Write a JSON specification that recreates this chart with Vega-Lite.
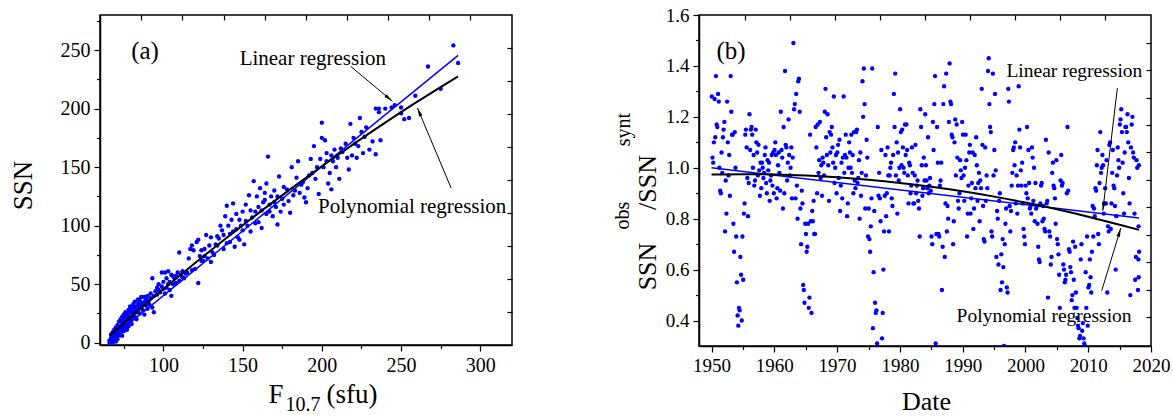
{
"$schema":"https://vega.github.io/schema/vega-lite/v6.json",
"background":"white",
"padding":{"left":8,"top":5,"right":5,"bottom":0},
"bounds":"flush",
"spacing":187,
"datasets":{
"a":[{"f":66,"s":0},{"f":66,"s":2},{"f":67,"s":1},{"f":67,"s":4},{"f":67,"s":7},{"f":68,"s":3},{"f":68,"s":0},{"f":68,"s":9},{"f":69,"s":2},{"f":69,"s":5},{"f":69,"s":11},{"f":69,"s":6},{"f":70,"s":1},{"f":70,"s":8},{"f":70,"s":13},{"f":70,"s":4},{"f":71,"s":10},{"f":71,"s":3},{"f":71,"s":15},{"f":71,"s":7},{"f":72,"s":6},{"f":72,"s":12},{"f":72,"s":18},{"f":72,"s":9},{"f":73,"s":14},{"f":73,"s":8},{"f":73,"s":20},{"f":73,"s":11},{"f":74,"s":12},{"f":74,"s":17},{"f":74,"s":22},{"f":74,"s":6},{"f":75,"s":15},{"f":75,"s":19},{"f":75,"s":24},{"f":75,"s":10},{"f":76,"s":18},{"f":76,"s":13},{"f":76,"s":22},{"f":76,"s":26},{"f":77,"s":16},{"f":77,"s":21},{"f":77,"s":25},{"f":77,"s":11},{"f":78,"s":20},{"f":78,"s":24},{"f":78,"s":28},{"f":78,"s":14},{"f":79,"s":22},{"f":79,"s":27},{"f":79,"s":31},{"f":79,"s":18},{"f":80,"s":21},{"f":80,"s":26},{"f":80,"s":30},{"f":80,"s":16},{"f":81,"s":24},{"f":81,"s":29},{"f":81,"s":33},{"f":82,"s":22},{"f":82,"s":27},{"f":82,"s":31},{"f":82,"s":35},{"f":83,"s":26},{"f":83,"s":30},{"f":83,"s":20},{"f":84,"s":28},{"f":84,"s":33},{"f":84,"s":37},{"f":85,"s":25},{"f":85,"s":31},{"f":85,"s":36},{"f":86,"s":30},{"f":86,"s":34},{"f":86,"s":39},{"f":87,"s":28},{"f":87,"s":33},{"f":88,"s":35},{"f":88,"s":39},{"f":88,"s":24},{"f":89,"s":32},{"f":89,"s":38},{"f":90,"s":36},{"f":90,"s":40},{"f":90,"s":29},{"f":91,"s":33},{"f":92,"s":38},{"f":92,"s":42},{"f":93,"s":55},{"f":93,"s":30},{"f":94,"s":40},{"f":94,"s":26},{"f":95,"s":44},{"f":96,"s":47},{"f":96,"s":41},{"f":97,"s":45},{"f":97,"s":50},{"f":98,"s":43},{"f":99,"s":48},{"f":99,"s":60},{"f":100,"s":52},{"f":100,"s":46},{"f":101,"s":60},{"f":101,"s":42},{"f":102,"s":55},{"f":103,"s":50},{"f":103,"s":61},{"f":104,"s":45},{"f":105,"s":58},{"f":105,"s":40},{"f":106,"s":50},{"f":107,"s":55},{"f":108,"s":57},{"f":109,"s":60},{"f":110,"s":53},{"f":110,"s":77},{"f":111,"s":58},{"f":112,"s":61},{"f":113,"s":55},{"f":114,"s":59},{"f":115,"s":60},{"f":116,"s":72},{"f":117,"s":80},{"f":118,"s":83},{"f":119,"s":79},{"f":120,"s":63},{"f":121,"s":86},{"f":122,"s":88},{"f":122,"s":51},{"f":123,"s":74},{"f":124,"s":79},{"f":125,"s":70},{"f":126,"s":80},{"f":127,"s":92},{"f":128,"s":72},{"f":129,"s":83},{"f":130,"s":69},{"f":130,"s":90},{"f":132,"s":75},{"f":133,"s":84},{"f":134,"s":91},{"f":135,"s":89},{"f":136,"s":100},{"f":137,"s":96},{"f":138,"s":80},{"f":139,"s":108},{"f":140,"s":117},{"f":140,"s":85},{"f":141,"s":100},{"f":142,"s":93},{"f":143,"s":105},{"f":144,"s":119},{"f":145,"s":82},{"f":146,"s":110},{"f":147,"s":90},{"f":148,"s":105},{"f":149,"s":100},{"f":150,"s":112},{"f":151,"s":84},{"f":152,"s":118},{"f":153,"s":100},{"f":154,"s":126},{"f":155,"s":95},{"f":156,"s":107},{"f":157,"s":138},{"f":158,"s":112},{"f":159,"s":125},{"f":160,"s":103},{"f":161,"s":132},{"f":162,"s":98},{"f":163,"s":120},{"f":164,"s":128},{"f":165,"s":136},{"f":165,"s":110},{"f":166,"s":159},{"f":167,"s":118},{"f":168,"s":125},{"f":169,"s":108},{"f":170,"s":130},{"f":171,"s":116},{"f":172,"s":101},{"f":173,"s":142},{"f":174,"s":112},{"f":175,"s":123},{"f":176,"s":133},{"f":178,"s":131},{"f":180,"s":111},{"f":181,"s":150},{"f":182,"s":126},{"f":184,"s":141},{"f":185,"s":155},{"f":186,"s":128},{"f":188,"s":137},{"f":189,"s":124},{"f":190,"s":120},{"f":191,"s":132},{"f":193,"s":157},{"f":194,"s":145},{"f":195,"s":168},{"f":196,"s":140},{"f":198,"s":127},{"f":199,"s":157},{"f":200,"s":188},{"f":200,"s":175},{"f":201,"s":150},{"f":202,"s":173},{"f":203,"s":162},{"f":204,"s":136},{"f":205,"s":145},{"f":206,"s":131},{"f":207,"s":155},{"f":208,"s":165},{"f":209,"s":150},{"f":210,"s":158},{"f":211,"s":140},{"f":213,"s":163},{"f":215,"s":170},{"f":217,"s":148},{"f":218,"s":187},{"f":219,"s":160},{"f":220,"s":175},{"f":222,"s":158},{"f":223,"s":168},{"f":224,"s":192},{"f":225,"s":180},{"f":226,"s":162},{"f":228,"s":184},{"f":230,"s":165},{"f":232,"s":172},{"f":234,"s":200},{"f":234,"s":161},{"f":236,"s":200},{"f":236,"s":197},{"f":237,"s":173},{"f":240,"s":200},{"f":244,"s":201},{"f":246,"s":203},{"f":250,"s":201},{"f":250,"s":196},{"f":252,"s":191},{"f":255,"s":192},{"f":259,"s":211},{"f":267,"s":236},{"f":275,"s":217},{"f":283,"s":254},{"f":286,"s":239},{"f":102,"s":47},{"f":104,"s":52},{"f":106,"s":57},{"f":108,"s":51},{"f":112,"s":56},{"f":118,"s":62},{"f":124,"s":70},{"f":126,"s":74},{"f":131,"s":77},{"f":134,"s":83},{"f":138,"s":92},{"f":142,"s":86},{"f":144,"s":95},{"f":146,"s":97},{"f":148,"s":88},{"f":150,"s":96},{"f":152,"s":104},{"f":155,"s":113},{"f":158,"s":102},{"f":160,"s":116},{"f":162,"s":113},{"f":164,"s":122},{"f":167,"s":112},{"f":170,"s":120},{"f":172,"s":125},{"f":176,"s":118},{"f":179,"s":121},{"f":183,"s":130},{"f":187,"s":135},{"f":192,"s":143},{"f":197,"s":150},{"f":203,"s":155},{"f":206,"s":160},{"f":212,"s":166},{"f":216,"s":158},{"f":221,"s":170},{"f":227,"s":176}],
"aLin":[{"f":66.3,"s":3},{"f":286,"s":245.5}],
"aPoly":[{"f":66,"s":6},{"f":80,"s":22.5},{"f":100,"s":45.6},{"f":120,"s":68},{"f":140,"s":89.6},{"f":160,"s":110.7},{"f":180,"s":131},{"f":200,"s":150.7},{"f":220,"s":169.7},{"f":240,"s":188},{"f":260,"s":205.7},{"f":286,"s":227.6}],
"aText":[{"f":194.3,"s":237.6,"t":"Linear regression"},{"f":257,"s":111.1,"t":"Polynomial regression"}],
"aTag":[{"f":88.4,"s":242,"t":"(a)"}],
"aArrow":[{"k":"lin","f":218.2,"s":236.1,"f2":244.5,"s2":206.3},{"k":"poly","f":281.6,"s":132.1,"f2":260.3,"s2":200.6}],
"b":[
{"d":1950.04,"r":1.28},{"d":1950.15,"r":1.04},{"d":1950.26,"r":1.02},{"d":1950.37,"r":1.10},{"d":1950.48,"r":1.27},{"d":1950.59,"r":1.12},{"d":1950.70,"r":1.36},{"d":1950.81,"r":1.17},{"d":1950.92,"r":1.16},
{"d":1951.04,"r":1.29},{"d":1951.15,"r":1.26},{"d":1951.26,"r":1.00},{"d":1951.37,"r":0.91},{"d":1951.48,"r":0.90},{"d":1951.59,"r":1.06},{"d":1951.70,"r":0.98},{"d":1951.81,"r":1.12},{"d":1951.92,"r":1.15},
{"d":1952.04,"r":1.18},{"d":1952.15,"r":0.75},{"d":1952.26,"r":0.95},{"d":1952.37,"r":0.82},{"d":1952.48,"r":1.26},{"d":1952.59,"r":1.10},{"d":1952.70,"r":0.97},{"d":1952.81,"r":1.05},{"d":1952.92,"r":0.89},
{"d":1953.04,"r":1.36},{"d":1953.15,"r":1.22},{"d":1953.26,"r":1.13},{"d":1953.37,"r":1.13},{"d":1953.48,"r":0.78},{"d":1953.59,"r":0.67},{"d":1953.70,"r":1.14},{"d":1953.81,"r":1.00},{"d":1953.92,"r":0.73},
{"d":1954.04,"r":0.55},{"d":1954.15,"r":0.42},{"d":1954.26,"r":0.38},{"d":1954.37,"r":0.45},{"d":1954.48,"r":0.44},{"d":1954.59,"r":0.65},{"d":1954.70,"r":0.58},{"d":1954.81,"r":0.40},{"d":1954.92,"r":0.73},
{"d":1955.04,"r":0.56},{"d":1955.15,"r":0.82},{"d":1955.26,"r":0.86},{"d":1955.37,"r":1.13},{"d":1955.48,"r":1.15},{"d":1955.59,"r":1.08},{"d":1955.70,"r":0.96},{"d":1955.81,"r":0.81},{"d":1955.92,"r":0.94},
{"d":1956.04,"r":1.21},{"d":1956.15,"r":1.07},{"d":1956.26,"r":1.15},{"d":1956.37,"r":1.16},{"d":1956.48,"r":1.13},{"d":1956.59,"r":1.00},{"d":1956.70,"r":1.05},{"d":1956.81,"r":0.93},{"d":1956.92,"r":0.95},
{"d":1957.04,"r":1.15},{"d":1957.15,"r":1.10},{"d":1957.26,"r":1.06},{"d":1957.37,"r":0.97},{"d":1957.48,"r":1.09},{"d":1957.59,"r":0.99},{"d":1957.70,"r":0.89},{"d":1957.81,"r":1.02},{"d":1957.92,"r":0.92},
{"d":1958.04,"r":1.02},{"d":1958.15,"r":1.00},{"d":1958.26,"r":0.96},{"d":1958.37,"r":0.98},{"d":1958.48,"r":1.05},{"d":1958.59,"r":1.08},{"d":1958.70,"r":0.94},{"d":1958.81,"r":0.90},{"d":1958.92,"r":1.03},
{"d":1959.04,"r":0.99},{"d":1959.15,"r":1.02},{"d":1959.26,"r":0.87},{"d":1959.37,"r":0.95},{"d":1959.48,"r":0.97},{"d":1959.59,"r":1.05},{"d":1959.70,"r":0.93},{"d":1959.81,"r":1.06},{"d":1959.92,"r":0.90},
{"d":1960.04,"r":1.07},{"d":1960.15,"r":1.10},{"d":1960.26,"r":1.05},{"d":1960.37,"r":0.88},{"d":1960.48,"r":0.92},{"d":1960.59,"r":1.01},{"d":1960.70,"r":1.06},{"d":1960.81,"r":0.98},{"d":1960.92,"r":0.91},
{"d":1961.04,"r":1.22},{"d":1961.15,"r":1.07},{"d":1961.26,"r":1.04},{"d":1961.37,"r":0.84},{"d":1961.48,"r":1.16},{"d":1961.59,"r":0.90},{"d":1961.70,"r":1.38},{"d":1961.81,"r":1.09},{"d":1961.92,"r":1.08},
{"d":1962.04,"r":0.95},{"d":1962.15,"r":1.02},{"d":1962.26,"r":1.19},{"d":1962.37,"r":1.05},{"d":1962.48,"r":0.97},{"d":1962.59,"r":1.00},{"d":1962.70,"r":1.08},{"d":1962.81,"r":0.88},{"d":1962.92,"r":1.04},
{"d":1963.04,"r":1.49},{"d":1963.15,"r":1.23},{"d":1963.26,"r":1.25},{"d":1963.37,"r":0.88},{"d":1963.48,"r":1.29},{"d":1963.59,"r":0.93},{"d":1963.70,"r":0.80},{"d":1963.81,"r":1.34},{"d":1963.92,"r":1.35},
{"d":1964.04,"r":1.22},{"d":1964.15,"r":0.84},{"d":1964.26,"r":0.70},{"d":1964.37,"r":0.91},{"d":1964.48,"r":0.86},{"d":1964.59,"r":0.54},{"d":1964.70,"r":0.52},{"d":1964.81,"r":0.47},{"d":1964.92,"r":0.78},
{"d":1965.04,"r":0.74},{"d":1965.15,"r":0.67},{"d":1965.26,"r":0.69},{"d":1965.37,"r":0.78},{"d":1965.48,"r":0.45},{"d":1965.59,"r":0.49},{"d":1965.70,"r":1.13},{"d":1965.81,"r":0.79},{"d":1965.92,"r":0.43},
{"d":1966.04,"r":0.83},{"d":1966.15,"r":0.79},{"d":1966.26,"r":0.87},{"d":1966.37,"r":0.74},{"d":1966.48,"r":0.74},{"d":1966.59,"r":1.16},{"d":1966.70,"r":1.08},{"d":1966.81,"r":0.90},{"d":1966.92,"r":1.17},
{"d":1967.04,"r":0.98},{"d":1967.15,"r":1.03},{"d":1967.26,"r":1.18},{"d":1967.37,"r":0.96},{"d":1967.48,"r":1.01},{"d":1967.59,"r":0.89},{"d":1967.70,"r":1.04},{"d":1967.81,"r":1.02},{"d":1967.92,"r":0.97},
{"d":1968.04,"r":1.22},{"d":1968.15,"r":1.31},{"d":1968.26,"r":1.12},{"d":1968.37,"r":1.05},{"d":1968.48,"r":1.21},{"d":1968.59,"r":1.01},{"d":1968.70,"r":0.87},{"d":1968.81,"r":1.14},{"d":1968.92,"r":1.06},
{"d":1969.04,"r":1.13},{"d":1969.15,"r":1.16},{"d":1969.26,"r":1.08},{"d":1969.37,"r":1.02},{"d":1969.48,"r":1.28},{"d":1969.59,"r":0.94},{"d":1969.70,"r":1.00},{"d":1969.81,"r":1.05},{"d":1969.92,"r":0.90},
{"d":1970.04,"r":1.06},{"d":1970.15,"r":1.09},{"d":1970.26,"r":0.96},{"d":1970.37,"r":1.11},{"d":1970.48,"r":0.83},{"d":1970.59,"r":0.93},{"d":1970.70,"r":1.02},{"d":1970.81,"r":0.88},{"d":1970.92,"r":1.04},
{"d":1971.04,"r":1.28},{"d":1971.15,"r":0.98},{"d":1971.26,"r":1.05},{"d":1971.37,"r":1.13},{"d":1971.48,"r":1.04},{"d":1971.59,"r":0.81},{"d":1971.70,"r":0.86},{"d":1971.81,"r":1.00},{"d":1971.92,"r":1.10},
{"d":1972.04,"r":1.06},{"d":1972.15,"r":1.00},{"d":1972.26,"r":1.13},{"d":1972.37,"r":0.98},{"d":1972.48,"r":1.05},{"d":1972.59,"r":0.90},{"d":1972.70,"r":1.14},{"d":1972.81,"r":0.95},{"d":1972.92,"r":0.92},
{"d":1973.04,"r":1.14},{"d":1973.15,"r":1.15},{"d":1973.26,"r":0.94},{"d":1973.37,"r":0.96},{"d":1973.48,"r":1.03},{"d":1973.59,"r":0.80},{"d":1973.70,"r":1.06},{"d":1973.81,"r":0.89},{"d":1973.92,"r":0.98},
{"d":1974.04,"r":1.34},{"d":1974.15,"r":1.20},{"d":1974.26,"r":1.39},{"d":1974.37,"r":1.25},{"d":1974.48,"r":0.84},{"d":1974.59,"r":0.97},{"d":1974.70,"r":1.11},{"d":1974.81,"r":1.04},{"d":1974.92,"r":0.73},
{"d":1975.04,"r":0.84},{"d":1975.15,"r":0.72},{"d":1975.26,"r":0.67},{"d":1975.37,"r":0.77},{"d":1975.48,"r":0.88},{"d":1975.59,"r":1.39},{"d":1975.70,"r":0.37},{"d":1975.81,"r":0.59},{"d":1975.92,"r":0.83},
{"d":1976.04,"r":0.47},{"d":1976.15,"r":0.43},{"d":1976.26,"r":0.44},{"d":1976.37,"r":0.31},{"d":1976.48,"r":1.16},{"d":1976.59,"r":0.89},{"d":1976.70,"r":0.98},{"d":1976.81,"r":0.88},{"d":1976.92,"r":0.79},
{"d":1977.04,"r":1.07},{"d":1977.15,"r":0.33},{"d":1977.26,"r":0.43},{"d":1977.37,"r":0.60},{"d":1977.48,"r":0.75},{"d":1977.59,"r":0.89},{"d":1977.70,"r":1.05},{"d":1977.81,"r":0.81},{"d":1977.92,"r":0.90},
{"d":1978.04,"r":1.08},{"d":1978.15,"r":0.97},{"d":1978.26,"r":0.75},{"d":1978.37,"r":0.97},{"d":1978.48,"r":1.00},{"d":1978.59,"r":1.02},{"d":1978.70,"r":0.88},{"d":1978.81,"r":0.85},{"d":1978.92,"r":1.05},
{"d":1979.04,"r":1.29},{"d":1979.15,"r":1.16},{"d":1979.26,"r":1.37},{"d":1979.37,"r":0.97},{"d":1979.48,"r":1.10},{"d":1979.59,"r":0.82},{"d":1979.70,"r":1.06},{"d":1979.81,"r":0.95},{"d":1979.92,"r":1.00},
{"d":1980.04,"r":1.23},{"d":1980.15,"r":1.14},{"d":1980.26,"r":1.01},{"d":1980.37,"r":1.15},{"d":1980.48,"r":1.08},{"d":1980.59,"r":1.00},{"d":1980.70,"r":0.98},{"d":1980.81,"r":1.17},{"d":1980.92,"r":1.05},
{"d":1981.04,"r":1.17},{"d":1981.15,"r":1.07},{"d":1981.26,"r":0.97},{"d":1981.37,"r":0.86},{"d":1981.48,"r":1.02},{"d":1981.59,"r":1.01},{"d":1981.70,"r":0.90},{"d":1981.81,"r":0.93},{"d":1981.92,"r":1.08},
{"d":1982.04,"r":0.98},{"d":1982.15,"r":0.86},{"d":1982.26,"r":0.86},{"d":1982.37,"r":0.97},{"d":1982.48,"r":1.09},{"d":1982.59,"r":0.90},{"d":1982.70,"r":0.93},{"d":1982.81,"r":0.95},{"d":1982.92,"r":0.87},
{"d":1983.04,"r":0.84},{"d":1983.15,"r":0.73},{"d":1983.26,"r":1.23},{"d":1983.37,"r":1.16},{"d":1983.48,"r":1.01},{"d":1983.59,"r":0.89},{"d":1983.70,"r":0.92},{"d":1983.81,"r":1.04},{"d":1983.92,"r":0.95},
{"d":1984.04,"r":1.21},{"d":1984.15,"r":1.01},{"d":1984.26,"r":0.95},{"d":1984.37,"r":0.92},{"d":1984.48,"r":1.12},{"d":1984.59,"r":0.90},{"d":1984.70,"r":0.93},{"d":1984.81,"r":0.96},{"d":1984.92,"r":0.91},
{"d":1985.04,"r":0.73},{"d":1985.15,"r":0.70},{"d":1985.26,"r":1.18},{"d":1985.37,"r":1.07},{"d":1985.48,"r":1.25},{"d":1985.59,"r":1.36},{"d":1985.70,"r":0.31},{"d":1985.81,"r":0.74},{"d":1985.92,"r":1.16},
{"d":1986.04,"r":1.02},{"d":1986.15,"r":0.74},{"d":1986.26,"r":0.73},{"d":1986.37,"r":0.93},{"d":1986.48,"r":0.95},{"d":1986.59,"r":1.02},{"d":1986.70,"r":0.52},{"d":1986.81,"r":0.69},{"d":1986.92,"r":1.25},
{"d":1987.04,"r":1.32},{"d":1987.15,"r":0.65},{"d":1987.26,"r":0.86},{"d":1987.37,"r":1.37},{"d":1987.48,"r":0.75},{"d":1987.59,"r":0.85},{"d":1987.70,"r":0.80},{"d":1987.81,"r":1.18},{"d":1987.92,"r":1.41},
{"d":1988.04,"r":1.26},{"d":1988.15,"r":1.25},{"d":1988.26,"r":1.13},{"d":1988.37,"r":1.12},{"d":1988.48,"r":0.70},{"d":1988.59,"r":0.79},{"d":1988.70,"r":1.10},{"d":1988.81,"r":1.19},{"d":1988.92,"r":0.97},
{"d":1989.04,"r":1.17},{"d":1989.15,"r":1.04},{"d":1989.26,"r":0.87},{"d":1989.37,"r":0.84},{"d":1989.48,"r":0.90},{"d":1989.59,"r":1.03},{"d":1989.70,"r":0.99},{"d":1989.81,"r":0.96},{"d":1989.92,"r":1.18},
{"d":1990.04,"r":1.13},{"d":1990.15,"r":0.97},{"d":1990.26,"r":0.87},{"d":1990.37,"r":1.00},{"d":1990.48,"r":1.13},{"d":1990.59,"r":1.03},{"d":1990.70,"r":0.73},{"d":1990.81,"r":0.82},{"d":1990.92,"r":0.93},
{"d":1991.04,"r":1.06},{"d":1991.15,"r":1.09},{"d":1991.26,"r":0.82},{"d":1991.37,"r":0.88},{"d":1991.48,"r":0.94},{"d":1991.59,"r":1.06},{"d":1991.70,"r":0.76},{"d":1991.81,"r":0.84},{"d":1991.92,"r":1.05},
{"d":1992.04,"r":0.92},{"d":1992.15,"r":1.12},{"d":1992.26,"r":1.01},{"d":1992.37,"r":0.87},{"d":1992.48,"r":0.94},{"d":1992.59,"r":0.98},{"d":1992.70,"r":0.79},{"d":1992.81,"r":0.95},{"d":1992.92,"r":0.92},
{"d":1993.04,"r":1.31},{"d":1993.15,"r":1.09},{"d":1993.26,"r":0.85},{"d":1993.37,"r":0.72},{"d":1993.48,"r":0.71},{"d":1993.59,"r":1.08},{"d":1993.70,"r":0.87},{"d":1993.81,"r":0.97},{"d":1993.92,"r":0.92},
{"d":1994.04,"r":1.38},{"d":1994.15,"r":1.43},{"d":1994.26,"r":1.25},{"d":1994.37,"r":1.16},{"d":1994.48,"r":1.14},{"d":1994.59,"r":0.75},{"d":1994.70,"r":0.73},{"d":1994.81,"r":1.37},{"d":1994.92,"r":0.97},
{"d":1995.04,"r":1.07},{"d":1995.15,"r":1.29},{"d":1995.26,"r":0.99},{"d":1995.37,"r":0.65},{"d":1995.48,"r":0.83},{"d":1995.59,"r":0.80},{"d":1995.70,"r":0.62},{"d":1995.81,"r":0.87},{"d":1995.92,"r":0.90},
{"d":1996.04,"r":0.52},{"d":1996.15,"r":0.66},{"d":1996.26,"r":0.55},{"d":1996.37,"r":0.72},{"d":1996.48,"r":0.61},{"d":1996.59,"r":0.30},{"d":1996.70,"r":0.70},{"d":1996.81,"r":0.78},{"d":1996.92,"r":0.84},
{"d":1997.04,"r":0.53},{"d":1997.15,"r":0.51},{"d":1997.26,"r":1.31},{"d":1997.37,"r":1.26},{"d":1997.48,"r":0.85},{"d":1997.59,"r":0.75},{"d":1997.70,"r":0.83},{"d":1997.81,"r":0.93},{"d":1997.92,"r":0.98},
{"d":1998.04,"r":1.07},{"d":1998.15,"r":1.08},{"d":1998.26,"r":1.01},{"d":1998.37,"r":1.10},{"d":1998.48,"r":0.86},{"d":1998.59,"r":0.97},{"d":1998.70,"r":0.82},{"d":1998.81,"r":0.93},{"d":1998.92,"r":1.32},
{"d":1999.04,"r":1.15},{"d":1999.15,"r":1.08},{"d":1999.26,"r":0.99},{"d":1999.37,"r":0.93},{"d":1999.48,"r":1.02},{"d":1999.59,"r":0.86},{"d":1999.70,"r":0.76},{"d":1999.81,"r":0.73},{"d":1999.92,"r":0.70},
{"d":2000.04,"r":0.93},{"d":2000.15,"r":0.90},{"d":2000.26,"r":1.16},{"d":2000.37,"r":0.88},{"d":2000.48,"r":1.07},{"d":2000.59,"r":0.94},{"d":2000.70,"r":0.84},{"d":2000.81,"r":0.85},{"d":2000.92,"r":0.82},
{"d":2001.04,"r":1.08},{"d":2001.15,"r":1.04},{"d":2001.26,"r":0.87},{"d":2001.37,"r":1.00},{"d":2001.48,"r":0.79},{"d":2001.59,"r":0.94},{"d":2001.70,"r":0.84},{"d":2001.81,"r":0.85},{"d":2001.92,"r":0.78},
{"d":2002.04,"r":0.69},{"d":2002.15,"r":0.64},{"d":2002.26,"r":0.63},{"d":2002.37,"r":0.86},{"d":2002.48,"r":0.93},{"d":2002.59,"r":0.94},{"d":2002.70,"r":0.79},{"d":2002.81,"r":0.85},{"d":2002.92,"r":0.80},
{"d":2003.04,"r":0.76},{"d":2003.15,"r":0.75},{"d":2003.26,"r":1.11},{"d":2003.37,"r":0.86},{"d":2003.48,"r":0.87},{"d":2003.59,"r":0.49},{"d":2003.70,"r":1.06},{"d":2003.81,"r":0.75},{"d":2003.92,"r":0.73},
{"d":2004.04,"r":0.62},{"d":2004.15,"r":0.65},{"d":2004.26,"r":0.98},{"d":2004.37,"r":1.02},{"d":2004.48,"r":0.93},{"d":2004.59,"r":0.92},{"d":2004.70,"r":0.88},{"d":2004.81,"r":0.78},{"d":2004.92,"r":1.03},
{"d":2005.04,"r":0.72},{"d":2005.15,"r":0.70},{"d":2005.26,"r":0.66},{"d":2005.37,"r":0.58},{"d":2005.48,"r":0.45},{"d":2005.59,"r":0.95},{"d":2005.70,"r":1.05},{"d":2005.81,"r":0.93},{"d":2005.92,"r":0.94},
{"d":2006.04,"r":0.62},{"d":2006.15,"r":0.60},{"d":2006.26,"r":0.55},{"d":2006.37,"r":0.56},{"d":2006.48,"r":0.58},{"d":2006.59,"r":0.90},{"d":2006.70,"r":1.16},{"d":2006.81,"r":0.91},{"d":2006.92,"r":0.68},
{"d":2007.04,"r":0.67},{"d":2007.15,"r":0.61},{"d":2007.26,"r":0.59},{"d":2007.37,"r":0.48},{"d":2007.48,"r":0.50},{"d":2007.59,"r":0.71},{"d":2007.70,"r":0.56},{"d":2007.81,"r":0.45},{"d":2007.92,"r":0.69},
{"d":2008.04,"r":0.51},{"d":2008.15,"r":0.45},{"d":2008.26,"r":0.41},{"d":2008.37,"r":0.38},{"d":2008.48,"r":0.37},{"d":2008.59,"r":0.33},{"d":2008.70,"r":0.34},{"d":2008.81,"r":0.64},{"d":2008.92,"r":0.70},
{"d":2009.04,"r":0.36},{"d":2009.15,"r":0.39},{"d":2009.26,"r":0.33},{"d":2009.37,"r":0.31},{"d":2009.48,"r":0.30},{"d":2009.59,"r":0.59},{"d":2009.70,"r":0.45},{"d":2009.81,"r":0.73},{"d":2009.92,"r":0.38},
{"d":2010.04,"r":0.53},{"d":2010.15,"r":0.54},{"d":2010.26,"r":0.64},{"d":2010.37,"r":0.57},{"d":2010.48,"r":0.51},{"d":2010.59,"r":0.67},{"d":2010.70,"r":0.85},{"d":2010.81,"r":0.73},{"d":2010.92,"r":0.84},
{"d":2011.04,"r":0.81},{"d":2011.15,"r":0.92},{"d":2011.26,"r":0.91},{"d":2011.37,"r":1.01},{"d":2011.48,"r":1.07},{"d":2011.59,"r":0.74},{"d":2011.70,"r":0.70},{"d":2011.81,"r":0.94},{"d":2011.92,"r":1.14},
{"d":2012.04,"r":0.98},{"d":2012.15,"r":1.00},{"d":2012.26,"r":1.05},{"d":2012.37,"r":1.01},{"d":2012.48,"r":0.82},{"d":2012.59,"r":0.86},{"d":2012.70,"r":0.92},{"d":2012.81,"r":0.86},{"d":2012.92,"r":1.03},
{"d":2013.04,"r":0.51},{"d":2013.15,"r":0.77},{"d":2013.26,"r":0.75},{"d":2013.37,"r":1.09},{"d":2013.48,"r":1.10},{"d":2013.59,"r":0.76},{"d":2013.70,"r":0.86},{"d":2013.81,"r":0.98},{"d":2013.92,"r":1.07},
{"d":2014.04,"r":0.93},{"d":2014.15,"r":0.92},{"d":2014.26,"r":0.85},{"d":2014.37,"r":0.60},{"d":2014.48,"r":0.81},{"d":2014.59,"r":0.97},{"d":2014.70,"r":1.08},{"d":2014.81,"r":1.03},{"d":2014.92,"r":1.00},
{"d":2015.04,"r":1.17},{"d":2015.15,"r":1.19},{"d":2015.26,"r":1.23},{"d":2015.37,"r":1.14},{"d":2015.48,"r":1.02},{"d":2015.59,"r":0.90},{"d":2015.70,"r":0.82},{"d":2015.81,"r":1.06},{"d":2015.92,"r":1.16},
{"d":2016.04,"r":1.16},{"d":2016.15,"r":1.14},{"d":2016.26,"r":1.21},{"d":2016.37,"r":1.10},{"d":2016.48,"r":0.96},{"d":2016.59,"r":0.86},{"d":2016.70,"r":0.50},{"d":2016.81,"r":1.08},{"d":2016.92,"r":1.17},
{"d":2017.04,"r":1.20},{"d":2017.15,"r":1.06},{"d":2017.26,"r":1.04},{"d":2017.37,"r":0.82},{"d":2017.48,"r":0.56},{"d":2017.59,"r":0.65},{"d":2017.70,"r":1.03},{"d":2017.81,"r":1.00},{"d":2017.92,"r":0.52},
{"d":2018.00,"r":0.64},{"d":2018.04,"r":0.57},{"d":2018.07,"r":1.01},{"d":2018.10,"r":0.67},{"d":2018.02,"r":0.77}],
"bLin":[{"d":1950,"r":1.0},{"d":2018.1,"r":0.803}],
"bPoly":[{"d":1950,"r":0.9736},{"d":1955,"r":0.975},{"d":1960,"r":0.9736},{"d":1965,"r":0.9695},{"d":1970,"r":0.9626},{"d":1975,"r":0.9529},{"d":1980,"r":0.9405},{"d":1985,"r":0.9253},{"d":1990,"r":0.9074},{"d":1995,"r":0.8867},{"d":2000,"r":0.8632},{"d":2005,"r":0.837},{"d":2010,"r":0.808},{"d":2015,"r":0.7763},{"d":2018.1,"r":0.756}],
"bText":[{"d":2007.8,"r":1.358,"t":"Linear regression"},{"d":2002.97,"r":0.396,"t":"Polynomial regression"}],
"bTag":[{"d":1953.1,"r":1.426,"t":"(b)"}],
"bArrow":[{"k":"lin","d":2014.64,"r":1.313,"d2":2012.32,"r2":0.831},{"k":"poly","d":2012.16,"r":0.518,"d2":2015.18,"r2":0.763}]
},
"hconcat":[
{
"width":412,"height":330,
"resolve":{"axis":{"x":"independent","y":"independent"}},
"layer":[
{"data":{"name":"a"},
 "mark":{"type":"circle","size":19,"color":"#0000ff","opacity":1},
 "encoding":{
  "x":{"field":"f","type":"quantitative","scale":{"domain":[60,320],"nice":false,"zero":false},
   "axis":{"orient":"bottom","values":[75,100,125,150,175,200,225,250,275,300],"labelExpr":"datum.value % 50 === 0 ? datum.label : ''","tickSize":{"condition":{"test":"datum.value % 50 !== 0","value":3.5},"value":6},"labelFontSize":20,"labelPadding":4,"labelFlush":false,"labelOverlap":false,"title":"F","titleFontSize":27,"titleX":168,"titleY":57,"titleAlign":"left","titleBaseline":"alphabetic"}},
  "y":{"field":"s","type":"quantitative","scale":{"domain":[-2,280],"nice":false,"zero":false},
   "axis":{"orient":"left","values":[0,25,50,75,100,125,150,175,200,225,250,275],"labelExpr":"datum.value % 50 === 0 ? datum.label : ''","tickSize":{"condition":{"test":"datum.value % 50 !== 0","value":3.5},"value":6},"labelFontSize":20,"labelPadding":4,"labelFlush":false,"labelOverlap":false,"title":"SSN","titleFontSize":27,"titleX":-69,"titleY":170,"titleAlign":"center","titleBaseline":"alphabetic","titleAngle":-90}}
 }},
{"data":{"name":"aLin"},
 "mark":{"type":"line","color":"#0000ff","strokeWidth":1.5},
 "encoding":{
  "x":{"field":"f","type":"quantitative","axis":{"orient":"top","values":[86.1,112,138,163.9,189.9,215.8,241.8,267.7,293.7],"labels":false,"domain":false,"tickSize":-5,"title":null}},
  "y":{"field":"s","type":"quantitative","axis":{"orient":"right","values":[25.8,54,82.3,110.6,138.8,167.1,195.2,223.5,251.7],"labels":false,"domain":false,"tickSize":-5,"title":null}}
 }},
{"data":{"name":"aPoly"},
 "mark":{"type":"line","color":"black","strokeWidth":2,"interpolate":"monotone"},
 "encoding":{
  "x":{"field":"f","type":"quantitative","axis":{"orient":"bottom","domain":false,"ticks":false,"labels":false,"title":"10.7","titleFontSize":20,"titleX":185,"titleY":65,"titleAlign":"left","titleBaseline":"alphabetic"}},
  "y":{"field":"s","type":"quantitative","axis":null}
 }},
{"data":{"name":"aText"},
 "mark":{"type":"text","fontSize":21,"align":"center","baseline":"alphabetic","color":"black"},
 "encoding":{
  "x":{"field":"f","type":"quantitative","axis":{"orient":"bottom","domain":false,"ticks":false,"labels":false,"title":"(sfu)","titleFontSize":27,"titleX":226,"titleY":57,"titleAlign":"left","titleBaseline":"alphabetic"}},
  "y":{"field":"s","type":"quantitative","axis":null},
  "text":{"field":"t"}
 }},
{"data":{"name":"aTag"},
 "mark":{"type":"text","fontSize":25,"align":"center","baseline":"alphabetic","color":"black"},
 "encoding":{
  "x":{"field":"f","type":"quantitative","axis":null},
  "y":{"field":"s","type":"quantitative","axis":null},
  "text":{"field":"t"}
 }},
{"data":{"name":"aArrow"},
 "mark":{"type":"rule","color":"black","strokeWidth":1},
 "encoding":{
  "x":{"field":"f","type":"quantitative","axis":null},
  "y":{"field":"s","type":"quantitative","axis":null},
  "x2":{"field":"f2"},"y2":{"field":"s2"}
 }},
{"data":{"name":"aArrow"},
 "transform":[{"filter":"datum.k === 'lin'"}],
 "mark":{"type":"point","shape":"M0,0L-0.45,2.2L0.45,2.2Z","filled":true,"color":"black","opacity":1,"size":64,"angle":130},
 "encoding":{
  "x":{"field":"f2","type":"quantitative","axis":null},
  "y":{"field":"s2","type":"quantitative","axis":null}
 }},
{"data":{"name":"aArrow"},
 "transform":[{"filter":"datum.k === 'poly'"}],
 "mark":{"type":"point","shape":"M0,0L-0.45,2.2L0.45,2.2Z","filled":true,"color":"black","opacity":1,"size":64,"angle":337},
 "encoding":{
  "x":{"field":"f2","type":"quantitative","axis":null},
  "y":{"field":"s2","type":"quantitative","axis":null}
 }}
]
},
{
"width":452,"height":331,
"resolve":{"axis":{"x":"independent","y":"independent"}},
"layer":[
{"data":{"name":"b"},
 "mark":{"type":"circle","size":19,"color":"#0000ff","opacity":1,"clip":true},
 "encoding":{
  "x":{"field":"d","type":"quantitative","scale":{"domain":[1948,2020],"nice":false,"zero":false},
   "axis":{"orient":"bottom","values":[1950,1955,1960,1965,1970,1975,1980,1985,1990,1995,2000,2005,2010,2015,2020],"format":"d","labelExpr":"datum.value % 10 === 0 ? datum.label : ''","tickSize":{"condition":{"test":"datum.value % 10 !== 0","value":3.5},"value":6},"labelFontSize":19,"labelPadding":4,"labelFlush":false,"labelOverlap":false,"title":"Date","titleFontSize":26,"titleX":227,"titleY":63,"titleAlign":"center","titleBaseline":"alphabetic"}},
  "y":{"field":"r","type":"quantitative","scale":{"domain":[0.3,1.6],"nice":false,"zero":false},
   "axis":{"orient":"left","values":[0.4,0.5,0.6,0.7,0.8,0.9,1.0,1.1,1.2,1.3,1.4,1.5,1.6],"format":".1f","labelExpr":"round(datum.value*10) % 2 === 0 ? datum.label : ''","tickSize":{"condition":{"test":"round(datum.value*10) % 2 !== 0","value":3.5},"value":6},"labelFontSize":19,"labelPadding":4,"labelFlush":false,"labelOverlap":false,"title":"SSN","titleFontSize":26,"titleX":-44,"titleY":251,"titleAlign":"center","titleBaseline":"alphabetic","titleAngle":-90}}
 }},
{"data":{"name":"bLin"},
 "mark":{"type":"line","color":"#0000ff","strokeWidth":1.5},
 "encoding":{
  "x":{"field":"d","type":"quantitative","axis":{"orient":"top","values":[1955.37,1962.53,1969.7,1976.86,1984.03,1991.19,1998.36,2005.5,2012.7],"labels":false,"domain":false,"tickSize":-5,"title":null}},
  "y":{"field":"r","type":"quantitative","axis":{"orient":"right","values":[0.4129,0.5208,0.6286,0.7365,0.8443,0.9522,1.06,1.1678,1.2757,1.3835,1.4914],"labels":false,"domain":false,"tickSize":-5,"title":null}}
 }},
{"data":{"name":"bPoly"},
 "mark":{"type":"line","color":"black","strokeWidth":2,"interpolate":"monotone"},
 "encoding":{
  "x":{"field":"d","type":"quantitative","axis":null},
  "y":{"field":"r","type":"quantitative","axis":{"orient":"left","domain":false,"ticks":false,"labels":false,"title":"/SSN","titleFontSize":26,"titleX":-44,"titleY":167,"titleAlign":"center","titleBaseline":"alphabetic","titleAngle":-90}}
 }},
{"data":{"name":"bText"},
 "mark":{"type":"text","fontSize":19.5,"align":"center","baseline":"alphabetic","color":"black"},
 "encoding":{
  "x":{"field":"d","type":"quantitative","axis":null},
  "y":{"field":"r","type":"quantitative","axis":{"orient":"left","domain":false,"ticks":false,"labels":false,"title":"obs","titleFontSize":20,"titleX":-71,"titleY":200,"titleAlign":"center","titleBaseline":"alphabetic","titleAngle":-90}},
  "text":{"field":"t"}
 }},
{"data":{"name":"bTag"},
 "mark":{"type":"text","fontSize":25,"align":"center","baseline":"alphabetic","color":"black"},
 "encoding":{
  "x":{"field":"d","type":"quantitative","axis":null},
  "y":{"field":"r","type":"quantitative","axis":{"orient":"left","domain":false,"ticks":false,"labels":false,"title":"synt","titleFontSize":20,"titleX":-70,"titleY":114,"titleAlign":"center","titleBaseline":"alphabetic","titleAngle":-90}},
  "text":{"field":"t"}
 }},
{"data":{"name":"bArrow"},
 "mark":{"type":"rule","color":"black","strokeWidth":1},
 "encoding":{
  "x":{"field":"d","type":"quantitative","axis":null},
  "y":{"field":"r","type":"quantitative","axis":null},
  "x2":{"field":"d2"},"y2":{"field":"r2"}
 }},
{"data":{"name":"bArrow"},
 "transform":[{"filter":"datum.k === 'lin'"}],
 "mark":{"type":"point","shape":"M0,0L-0.45,2.2L0.45,2.2Z","filled":true,"color":"black","opacity":1,"size":64,"angle":187},
 "encoding":{
  "x":{"field":"d2","type":"quantitative","axis":null},
  "y":{"field":"r2","type":"quantitative","axis":null}
 }},
{"data":{"name":"bArrow"},
 "transform":[{"filter":"datum.k === 'poly'"}],
 "mark":{"type":"point","shape":"M0,0L-0.45,2.2L0.45,2.2Z","filled":true,"color":"black","opacity":1,"size":64,"angle":17},
 "encoding":{
  "x":{"field":"d2","type":"quantitative","axis":null},
  "y":{"field":"r2","type":"quantitative","axis":null}
 }}
]
}
],
"config":{
 "font":"Liberation Serif",
 "view":{"stroke":"black","strokeWidth":1.5},
 "axis":{"domainColor":"black","domainWidth":1.5,"tickColor":"black","tickWidth":1.2,"labelColor":"black","titleColor":"black","labelFont":"Liberation Serif","titleFont":"Liberation Serif","grid":false,"titleFontWeight":"normal"},
 "text":{"font":"Liberation Serif"}
}
}
